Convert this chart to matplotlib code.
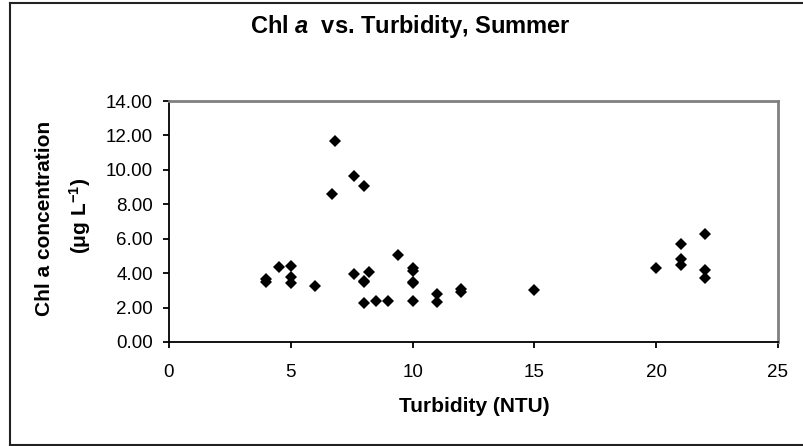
import numpy as np
import matplotlib.pyplot as plt
from matplotlib.lines import Line2D

plt.rcParams['font.family'] = ['Liberation Sans', 'DejaVu Sans']
plt.rcParams['mathtext.fontset'] = 'custom'
plt.rcParams['mathtext.rm'] = 'Liberation Sans'
plt.rcParams['mathtext.bf'] = 'Liberation Sans:bold'
plt.rcParams['mathtext.it'] = 'Liberation Sans:italic'
plt.rcParams['mathtext.bfit'] = 'Liberation Sans:bold:italic'

# turbidity (NTU) and chl a (ug/L)
turbidity = [4, 4, 4.5, 5, 5, 5, 6, 6.7, 6.8, 7.6, 7.6, 8, 8, 8, 8, 8.2,
             8.5, 9, 9.4, 10, 10, 10, 10, 10, 11, 11, 12, 12, 15,
             20, 21, 21, 21, 22, 22, 22]
chl_a = [3.5, 3.65, 4.35, 4.4, 3.8, 3.45, 3.25, 8.6, 11.65, 9.65, 3.95, 9.05, 3.55, 3.5, 2.25, 4.05,
         2.4, 2.4, 5.05, 4.3, 4.1, 3.5, 3.4, 2.4, 2.8, 2.3, 3.1, 2.9, 3.0,
         4.3, 5.7, 4.8, 4.45, 6.25, 4.2, 3.7]

x_ticks = [0, 5, 10, 15, 20, 25]
y_ticks = [0, 2, 4, 6, 8, 10, 12, 14]

fig = plt.figure(figsize=(8.04, 4.46), dpi=100)
ax = fig.add_axes((169/804, 104/446, 609/804, 241/446))

ax.plot(turbidity, chl_a, linestyle='none', marker='D', markersize=6.3,
        color='black', markeredgewidth=0)

ax.set_xlim(0, 25)
ax.set_ylim(0, 14)
ax.set_xticks(x_ticks)
ax.set_yticks(y_ticks)
ax.set_yticklabels(['%.2f' % v for v in y_ticks])
ax.tick_params(direction='out', length=4.5, width=1.3, labelsize=13.5)
ax.tick_params(axis='x', pad=11)
ax.tick_params(axis='y', pad=7)

for s in ['top', 'right']:
    ax.spines[s].set_color('#808080')
    ax.spines[s].set_linewidth(2)
for s in ['left', 'bottom']:
    ax.spines[s].set_color('black')
    ax.spines[s].set_linewidth(1.3)

# axis titles
fig.text(474/804, (446-407)/446, 'Turbidity (NTU)', ha='center', va='center',
         fontsize=15, fontweight='bold')
fig.text(45/804, (446-218)/446, 'Chl a concentration', ha='center', va='center',
         rotation=90, fontsize=15, fontweight='bold')
fig.text(80/804, (446-216)/446, r'($\mathbf{\mu}$g L$^{\mathbf{-1}}$)', ha='center', va='center',
         rotation=90, fontsize=15, fontweight='bold')

fig.text(410/804, (446-33)/446, r'Chl $\mathbfit{a}$  vs. Turbidity, Summer', ha='center',
         va='baseline', fontsize=17, fontweight='bold')

# chart area border
for xs, ys in [([10/804, 10/804], [1/446, 443.3/446]),
               ([10/804, 1.0], [443.3/446, 443.3/446]),
               ([10/804, 1.0], [1/446, 1/446])]:
    fig.add_artist(Line2D(xs, ys, color='#222222', linewidth=1.5))

fig.savefig('out.png', dpi=100)
